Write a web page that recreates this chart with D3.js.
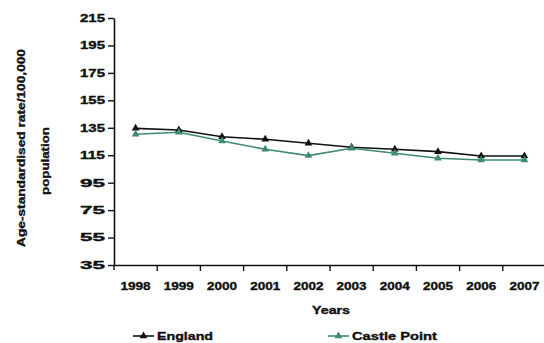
<!DOCTYPE html>
<html>
<head>
<meta charset="utf-8">
<script src="https://cdn.jsdelivr.net/npm/d3@7"></script>
<style>
  html, body { margin: 0; padding: 0; background: #fff; }
  svg text { font-family: "Liberation Sans", Arial, sans-serif; font-weight: bold; fill: #111; stroke: #111; stroke-width: 0.35px; }
</style>
</head>
<body>
<svg id="chart" width="544" height="343"></svg>
<script>
const years = ["1998","1999","2000","2001","2002","2003","2004","2005","2006","2007"];
const england = [134.6, 133.4, 128.5, 126.6, 123.7, 120.8, 119.3, 117.6, 114.4, 114.4];
const castlePoint = [130.3, 131.7, 125.4, 119.3, 114.7, 120.1, 116.4, 112.8, 111.5, 111.5];
const yTicks = [35, 55, 75, 95, 115, 135, 155, 175, 195, 215];
const seriesNames = ["England", "Castle Point"];
const seriesColors = ["#111111", "#3f8c6c"];

const svg = d3.select("#chart");
const x = d3.scaleBand().domain(years).range([114, 546]).padding(0);
const y = d3.scaleLinear().domain([35, 215]).range([265, 18]);

// Y axis
const yAxis = svg.append("g").attr("transform", "translate(114,0)")
  .call(d3.axisLeft(y).tickValues(yTicks).tickSize(6).tickSizeOuter(0).tickPadding(3));
yAxis.select(".domain").attr("stroke", "#111").attr("stroke-width", 1.6);
yAxis.selectAll(".tick line").attr("stroke", "#111").attr("stroke-width", 1.4);
yAxis.selectAll(".tick text").attr("font-size", 10.5).attr("textLength", 25)
  .attr("lengthAdjust", "spacingAndGlyphs").attr("fill", "#111");

// X axis
const xAxis = svg.append("g").attr("transform", "translate(0,265)")
  .call(d3.axisBottom(x).tickSize(0).tickPadding(0));
xAxis.select(".domain").attr("stroke", "#111").attr("stroke-width", 1.6);
xAxis.selectAll(".tick text").attr("font-size", 10.5).attr("dy", 0).attr("y", 25)
  .attr("textLength", 30).attr("lengthAdjust", "spacingAndGlyphs").attr("fill", "#111");
// tick marks between categories
xAxis.selectAll(".sep").data(years.slice(1)).enter().append("line")
  .attr("class", "sep")
  .attr("x1", d => x(d)).attr("x2", d => x(d))
  .attr("y1", 0).attr("y2", 6)
  .attr("stroke", "#111").attr("stroke-width", 1.4);
// small extension of y axis below x axis
svg.append("line").attr("x1", 114).attr("x2", 114).attr("y1", 265).attr("y2", 270)
  .attr("stroke", "#111").attr("stroke-width", 1.4);

// Axis titles
svg.append("text").attr("x", 331).attr("y", 314).attr("text-anchor", "middle")
  .attr("font-size", 10.5).attr("textLength", 38).attr("lengthAdjust", "spacingAndGlyphs").text("Years");
svg.append("text").attr("transform", "translate(25,148) rotate(-90)").attr("text-anchor", "middle")
  .attr("font-size", 10.5).attr("textLength", 198).attr("lengthAdjust", "spacingAndGlyphs")
  .text("Age-standardised rate/100,000");
svg.append("text").attr("transform", "translate(49,161) rotate(-90)").attr("text-anchor", "middle")
  .attr("font-size", 10.5).attr("textLength", 68).attr("lengthAdjust", "spacingAndGlyphs")
  .text("population");

// Lines
const data = [england, castlePoint];
const line = d3.line().x((d, i) => x(years[i]) + x.bandwidth() / 2).y(d => y(d));
const tri = d3.symbol().type(d3.symbolTriangle).size(26);

data.forEach((vals, s) => {
  svg.append("path").datum(vals).attr("d", line)
    .attr("fill", "none").attr("stroke", seriesColors[s]).attr("stroke-width", 1.6);
  svg.selectAll(".m" + s).data(vals).enter().append("path")
    .attr("class", "m" + s)
    .attr("d", tri)
    .attr("transform", (d, i) => `translate(${x(years[i]) + x.bandwidth() / 2},${y(d)})`)
    .attr("fill", seriesColors[s]);
});

// Legend
const legendX = [133, 328];
const legendW = [56, 85];
seriesNames.forEach((name, s) => {
  const g = svg.append("g").attr("transform", `translate(${legendX[s]},336)`);
  g.append("line").attr("x1", 0).attr("x2", 21).attr("y1", 0).attr("y2", 0)
    .attr("stroke", seriesColors[s]).attr("stroke-width", 1.6);
  g.append("path").attr("d", tri).attr("transform", "translate(10.5,0)").attr("fill", seriesColors[s]);
  g.append("text").attr("x", 24).attr("y", 4).attr("font-size", 10.5)
    .attr("textLength", legendW[s]).attr("lengthAdjust", "spacingAndGlyphs").text(name);
});
</script>
</body>
</html>
